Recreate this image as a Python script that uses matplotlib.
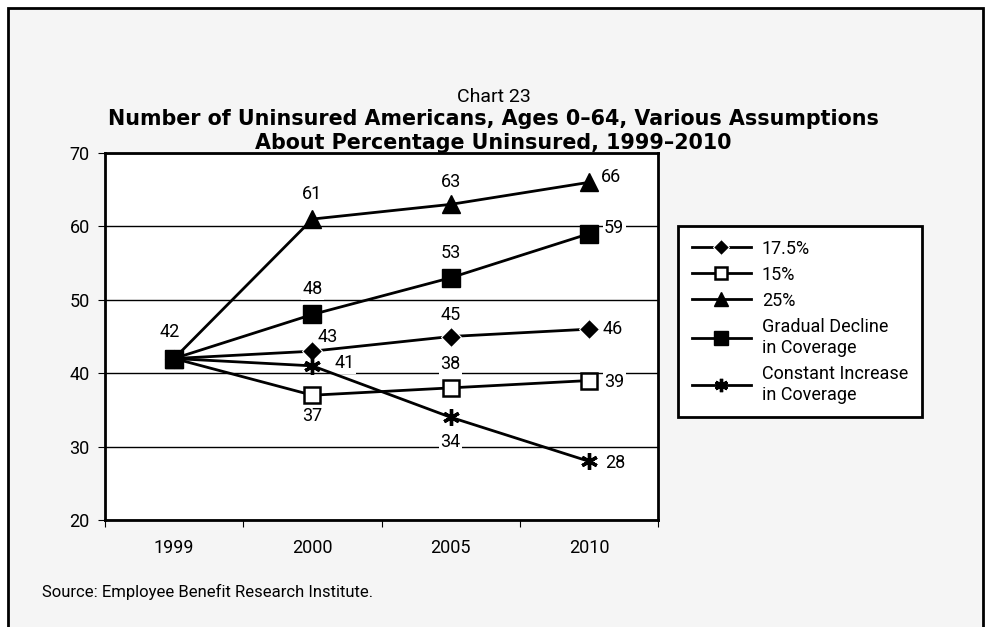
import matplotlib
matplotlib.use('Agg')
import matplotlib.pyplot as plt  # noqa
from matplotlib.patches import Rectangle  # noqa

plt.rcParams['font.family'] = ['Liberation Sans Narrow', 'Roboto', 'DejaVu Sans']

years = ['1999', '2000', '2005', '2010']
pct_175 = [42, 43, 45, 46]
pct_15 = [42, 37, 38, 39]
pct_25 = [42, 61, 63, 66]
gradual = [42, 48, 53, 59]
constant = [42, 41, 34, 28]

fig = plt.figure(figsize=(9.87, 6.27), dpi=100, facecolor='white')

# outer frame (light grey panel, open at bottom)
fig.patches.append(Rectangle((8 / 987, -0.05), 975 / 987, 1.05 - 8 / 627,
                             transform=fig.transFigure, facecolor='#f5f5f5',
                             edgecolor='black', lw=2, zorder=-5))

ax = fig.add_axes([105 / 987, 1 - 520 / 627, 553 / 987, 367 / 627])
ax.set_facecolor('white')
x = list(range(len(years)))

series = [
    (pct_175, dict(marker='D', markersize=10.5, mfc='black', mec='white', mew=0.8), '17.5%'),
    (pct_15, dict(marker='s', markersize=11, mfc='white', mec='black', mew=1.8), '15%'),
    (pct_25, dict(marker='^', markersize=13, mfc='black', mec='black'), '25%'),
    (gradual, dict(marker='s', markersize=13, mfc='black', mec='black'),
     'Gradual Decline\nin Coverage'),
    (constant, dict(marker=(6, 2, 0), markersize=12, mec='black', mew=2.4),
     'Constant Increase\nin Coverage'),
]
for vals, style, name in series:
    ax.plot(x, vals, color='black', lw=2, label=name, zorder=3, **style)


# data labels: offsets in points
def lab(vals, i, dx, dy, ha='center'):
    ax.annotate(str(vals[i]), (x[i], vals[i]), xytext=(dx, dy),
                textcoords='offset points', ha=ha, va='center', fontsize=13,
                bbox=dict(facecolor='white', edgecolor='none', pad=1),
                zorder=2)


lab(pct_25, 0, -3, 19)
lab(pct_25, 1, 0, 18)
lab(pct_25, 2, 0, 16)
lab(pct_25, 3, 9, 4, 'left')
lab(gradual, 1, 0, 18)
lab(gradual, 2, 0, 18)
lab(gradual, 3, 11, 4, 'left')
lab(pct_175, 1, 11, 10)
lab(pct_175, 2, 0, 15.5)
lab(pct_175, 3, 9.5, 0, 'left')
lab(pct_15, 1, 0, -15)
lab(pct_15, 2, 0, 17)
lab(pct_15, 3, 11, -1, 'left')
lab(constant, 1, 16, 2, 'left')
lab(constant, 2, 0, -18)
lab(constant, 3, 12, -1, 'left')

ax.set_xlim(-0.5, 3.5)
ax.set_ylim(20, 70)
ax.set_yticks([20, 30, 40, 50, 60, 70])
ax.set_xticks([i - 0.5 for i in range(5)])
ax.set_xticklabels([])
ax.set_xticks(x, minor=True)
ax.set_xticklabels(years, minor=True)
ax.tick_params(axis='x', which='minor', length=0, pad=14, labelsize=13)
ax.tick_params(axis='x', which='major', length=5, direction='out')
ax.tick_params(axis='y', length=5, direction='out', labelsize=13, pad=6)
ax.grid(axis='y', color='black', lw=1)
ax.set_axisbelow(True)
for s in ax.spines.values():
    s.set_linewidth(2)

fig.text(0.5, 1 - 97 / 627, 'Chart 23', ha='center', va='center', fontsize=14)
fig.text(0.5, 1 - 131 / 627,
         'Number of Uninsured Americans, Ages 0–64, Various Assumptions\n'
         'About Percentage Uninsured, 1999–2010',
         ha='center', va='center', fontsize=14.9, fontweight='bold',
         family='DejaVu Sans', linespacing=1.2)
fig.text(42 / 987, 1 - 592 / 627, 'Source: Employee Benefit Research Institute.',
         ha='left', va='center', fontsize=12)

leg = fig.legend(loc='upper left', bbox_to_anchor=(678 / 987, 1 - 226 / 627),
                 fontsize=13, frameon=True, fancybox=False, edgecolor='black',
                 framealpha=1, handlelength=3.3, handletextpad=0.6,
                 labelspacing=0.45, borderpad=0.75, borderaxespad=0,
                 markerscale=0.8)
leg.get_frame().set_linewidth(2)
leg.get_frame().set_facecolor('white')

fig.savefig('out.png', dpi=100, facecolor='white')
